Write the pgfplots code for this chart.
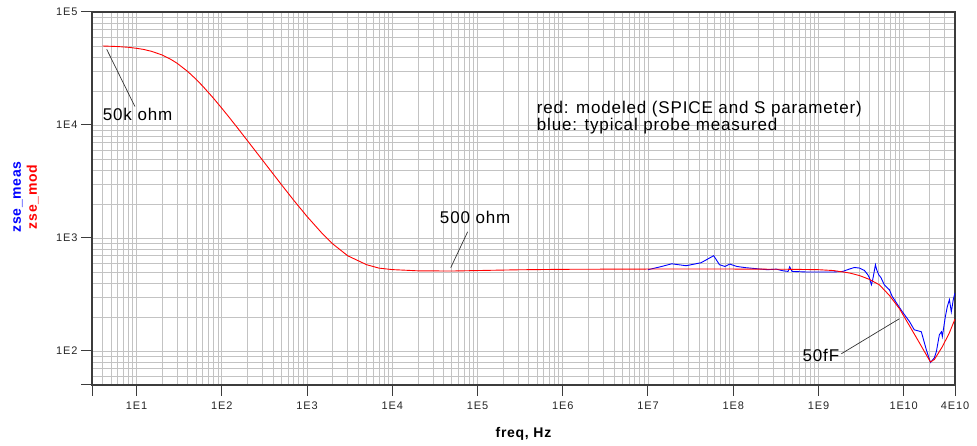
\documentclass[border=0pt]{standalone}
\usepackage{fontspec}
\setmainfont{Liberation Sans}
\newfontfamily\annfont[LetterSpace=5]{Liberation Sans}
\newfontfamily\labfont[LetterSpace=5]{Liberation Sans}
\newfontfamily\tickfont[LetterSpace=8]{Liberation Sans}
\usepackage{pgfplots}
\pgfplotsset{compat=1.18}
\definecolor{gridgray}{RGB}{195,195,195}
\definecolor{axgray}{RGB}{60,60,60}
\definecolor{zred}{RGB}{255,0,0}
\definecolor{zblue}{RGB}{0,0,255}

\begin{document}
\begin{tikzpicture}[x=1pt,y=1pt]
\begin{axis}[
  at={(92pt,61pt)}, anchor=south west,
  scale only axis, width=863pt, height=373pt,
  xmode=log, ymode=log,
  xmin=3, xmax=4e10, ymin=50, ymax=1e5,
  axis line style={axgray, line width=1.1pt},
  xtick={1e1,1e2,1e3,1e4,1e5,1e6,1e7,1e8,1e9,1e10},
  xticklabels={1E1,1E2,1E3,1E4,1E5,1E6,1E7,1E8,1E9,1E10},
  extra x ticks={3,4e10}, extra x tick labels={,4E10},
  extra x tick style={grid=none},
  ytick={1e2,1e3,1e4,1e5}, yticklabels={1E2,1E3,1E4,1E5},
  extra y ticks={50}, extra y tick labels={},
  extra y tick style={grid=none},
  minor xtick={4,5,6,7,8,9,20,30,40,50,60,70,80,90,200,300,400,500,600,700,800,900,
    2e3,3e3,4e3,5e3,6e3,7e3,8e3,9e3,2e4,3e4,4e4,5e4,6e4,7e4,8e4,9e4,
    2e5,3e5,4e5,5e5,6e5,7e5,8e5,9e5,2e6,3e6,4e6,5e6,6e6,7e6,8e6,9e6,
    2e7,3e7,4e7,5e7,6e7,7e7,8e7,9e7,2e8,3e8,4e8,5e8,6e8,7e8,8e8,9e8,
    2e9,3e9,4e9,5e9,6e9,7e9,8e9,9e9,2e10,3e10},
  minor ytick={60,70,80,90,200,300,400,500,600,700,800,900,
    2e3,3e3,4e3,5e3,6e3,7e3,8e3,9e3,2e4,3e4,4e4,5e4,6e4,7e4,8e4,9e4},
  tick pos=left,
  tick align=outside,
  major tick length=11pt,
  minor tick length=0pt,
  every tick/.style={axgray, line width=1pt},
  grid=both,
  major grid style={gridgray, line width=0.8pt},
  minor grid style={gridgray, line width=0.8pt},
  ticklabel style={font=\tickfont\fontsize{11}{12}\selectfont, text=black!85},
  xticklabel style={yshift=-2pt},
]
\addplot[zblue, line width=0.9pt] coordinates {
(1.0e7,524) (1.4e7,556) (1.9e7,591) (2.8e7,568) (4.2e7,604) (5.9e7,697)
(6.9e7,580) (8.0e7,560) (9.1e7,588) (1.1e8,560) (1.4e8,546) (2.5e8,524)
(3.2e8,530) (3.8e8,513) (4.4e8,506) (4.6e8,556) (4.9e8,506) (7.2e8,500)
(1.0e9,500) (1.5e9,500) (1.93e9,506) (2.31e9,531) (2.64e9,548) (3.03e9,542)
(3.46e9,516) (3.79e9,473) (3.96e9,445) (4.18e9,386) (4.33e9,427) (4.55e9,524)
(4.66e9,580) (4.82e9,524) (5.09e9,473) (5.42e9,445) (5.91e9,386) (6.80e9,348)
(7.33e9,304) (8.4e9,260) (9.66e9,222) (1.17e10,182) (1.33e10,154) (1.61e10,148)
(1.84e10,103) (2.06e10,79) (2.29e10,87) (2.42e10,99) (2.62e10,139) (2.77e10,148)
(2.84e10,134) (3.08e10,201) (3.25e10,247) (3.44e10,285) (3.62e10,222) (3.82e10,285)
(4.0e10,327)
};
\addplot[zred, line width=0.9pt] coordinates {
(4,50000) (6,49450) (8,48690) (10,47700) (12,46680) (15,44850) (20,41600) (25,38250)
(30,35100) (40,29650) (50,25340) (60,21980) (80,17220) (100,14070) (120,11870)
(150,9600) (200,7260) (250,5840) (300,4890) (400,3690) (500,2970) (700,2150)
(1000,1550) (1500,1100) (2000,887) (3000,696) (5000,580) (7000,541) (1e4,525)
(2e4,512) (5e4,510) (1e5,515) (3e5,523) (1e6,528) (1e7,531) (1e8,531) (5e8,528)
(1e9,524) (1.5e9,515) (2.31e9,490) (3.03e9,465) (3.96e9,430) (5.19e9,385)
(6.80e9,310) (8.91e9,237) (1.17e10,167) (1.53e10,118) (1.85e10,92) (2.06e10,80)
(2.29e10,84) (2.84e10,109) (3.44e10,145) (4.0e10,192)
};
% annotations
\draw[black!80, line width=0.7pt] (axis cs:4.46,46760) -- (axis cs:9.57,14550);
\node[anchor=west, inner sep=0pt, font=\annfont\fontsize{17}{17}\selectfont] at (axis cs:4.0,12420) {50k ohm};
\draw[black!80, line width=0.7pt] (axis cs:48500,546) -- (axis cs:76700,1135);
\node[anchor=west, inner sep=0pt, font=\annfont\fontsize{17}{17}\selectfont] at (axis cs:36060,1510) {500 ohm};
\draw[black!80, line width=0.7pt] (axis cs:1.86e9,94.6) -- (axis cs:8.91e9,193);
\node[anchor=east, inner sep=0pt, font=\annfont\fontsize{17}{17}\selectfont] at (axis cs:1.76e9,91.9) {50fF};
\node[anchor=north west, inner sep=0pt, align=left, font=\annfont\fontsize{17}{15.7}\selectfont] at (axis cs:4.94e5,16180) {red: modeled (SPICE and S parameter)\\blue: typical probe measured};
\end{axis}
\node[font=\labfont\bfseries\fontsize{14}{16}\selectfont] at (523.5,12) {freq, Hz};
\node[rotate=90, align=center, font=\labfont\bfseries\fontsize{14}{16}\selectfont] at (26,249) {\textcolor{zblue}{zse\_meas}\\\textcolor{zred}{zse\_mod}};
\pgfresetboundingbox
\useasboundingbox (0,0) rectangle (977,446);
\end{tikzpicture}
\end{document}
